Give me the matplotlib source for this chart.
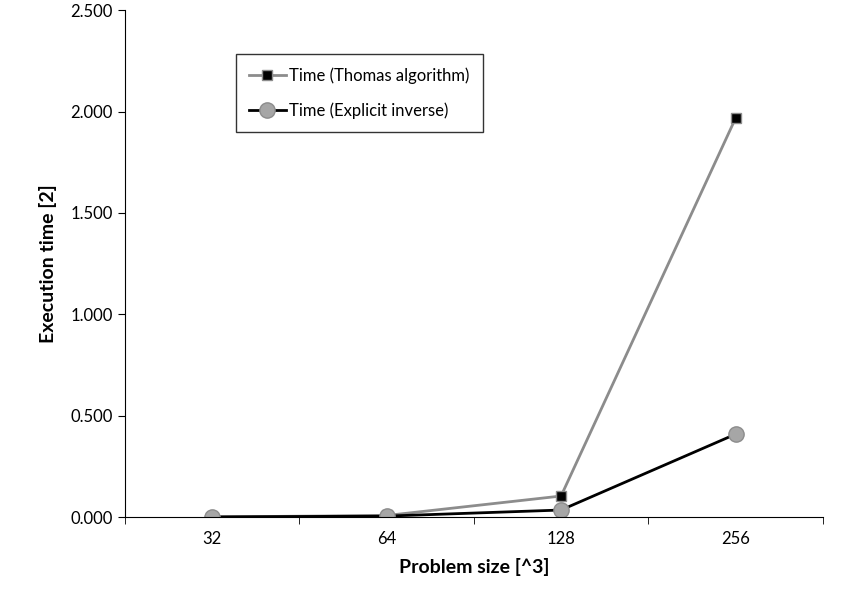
import matplotlib.pyplot as plt
import numpy as np

plt.rcParams['font.family'] = ['Lato', 'DejaVu Sans']

sizes = ["32", "64", "128", "256"]
thomas = [0.001, 0.008, 0.104, 1.967]
explicit = [0.001, 0.005, 0.035, 0.409]

fig = plt.figure(figsize=(8.67, 6.02), dpi=100)
ax = fig.add_axes([0.144, 0.141, 0.805, 0.842])

x = np.arange(len(sizes))
ax.plot(x, thomas, color="#8c8c8c", lw=2, marker="s", ms=7,
        mfc="black", mec="#8c8c8c", label="Time (Thomas algorithm)")
ax.plot(x, explicit, color="black", lw=2, marker="o", ms=11,
        mfc="#a6a6a6", mec="#8c8c8c", label="Time (Explicit inverse)")

ax.set_xlim(-0.5, 3.5)
ax.set_ylim(0, 2.5)
ax.set_yticks(np.arange(0, 2.51, 0.5))
ax.set_yticklabels([f"{v:.3f}" for v in np.arange(0, 2.51, 0.5)])
ax.set_xticks(x)
ax.set_xticklabels(sizes)
ax.set_xticks(np.arange(-0.5, 3.6, 1), minor=True)
ax.tick_params(axis="x", which="major", length=0, pad=10, labelsize=12)
ax.tick_params(axis="x", which="minor", length=5, direction="out")
ax.tick_params(axis="y", length=5, direction="out", labelsize=12)
for s in ("top", "right"):
    ax.spines[s].set_visible(False)

ax.set_xlabel("Problem size [^3]", fontsize=14, fontweight="bold", labelpad=8)
ax.set_ylabel("Execution time [2]", fontsize=14, fontweight="bold", labelpad=10)

leg = ax.legend(loc="upper left", bbox_to_anchor=(0.147, 0.93), fontsize=12,
                frameon=True, fancybox=False, edgecolor="black",
                labelspacing=1.1, handlelength=2.2, handletextpad=0.2,
                borderpad=0.8)
leg.get_frame().set_linewidth(1)

fig.savefig("out.png", dpi=100)
